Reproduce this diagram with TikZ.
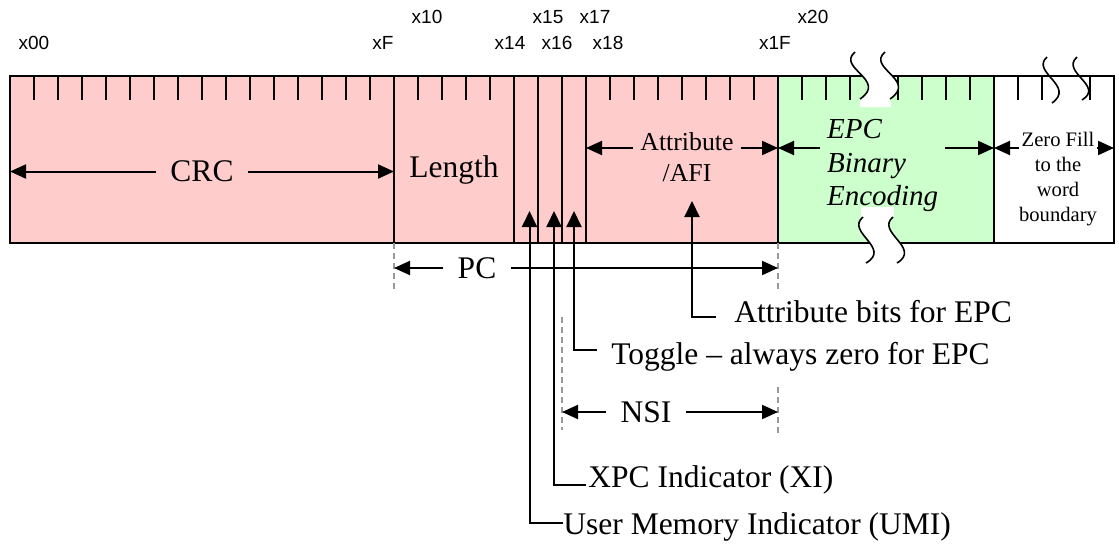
\documentclass[tikz,border=0pt]{standalone}
\usepackage{fontspec}
\setmainfont{Liberation Serif}
\newfontfamily\hexfont{Liberation Sans}
\usetikzlibrary{arrows.meta}
\definecolor{mylightred}{RGB}{255,204,204}
\definecolor{mylightgreen}{RGB}{204,255,204}
\definecolor{myguide}{gray}{.6}
\newcommand{\widthbit}{12pt}
\newcommand{\heightfield}{83.5pt}
\newcommand{\bigtext}{\fontsize{15.75pt}{18pt}\selectfont}
\newcommand{\midtext}{\fontsize{12.9pt}{15.8pt}\selectfont}
\newcommand{\smalltext}{\fontsize{10.3pt}{12.5pt}\selectfont}
\newcommand{\epcfont}{\fontsize{14.5pt}{16.7pt}\selectfont\itshape}
\tikzset{
    field/.style={anchor=west, draw, rectangle, line width=0.8pt, inner sep=0pt, outer sep=0pt, minimum height=\heightfield},
    tick/.style={line width=0.7pt},
    dimarrow/.style={-{Triangle[length=8pt, width=7pt]}, line width=1pt},
    pointer/.style={-{Triangle[length=8pt, width=7.5pt]}, line width=1pt},
    guide/.style={myguide, line width=0.6pt, dash pattern=on 3pt off 2pt},
    breakline/.style={line width=0.8pt},
    dimlabel/.style={font=\bigtext, inner xsep=7pt},
    pointerlabel/.style={font=\bigtext, anchor=west, inner sep=0pt},
    hexlabel/.style={font=\hexfont\fontsize{9.5pt}{11pt}\selectfont}
}
\begin{document}
\begin{tikzpicture}[x=0.5pt, y=-0.5pt]
    \useasboundingbox (0,0) rectangle (1119,546);

    \path (10,159.5) node[field, minimum width=16*\widthbit, fill=mylightred] (crc) {}
        to ++(0:16*\widthbit) node[field, minimum width=5*\widthbit, fill=mylightred] (length) {}
        to ++(0:5*\widthbit) node[field, minimum width=\widthbit, fill=mylightred] (umi) {}
        to ++(0:\widthbit) node[field, minimum width=\widthbit, fill=mylightred] (xi) {}
        to ++(0:\widthbit) node[field, minimum width=\widthbit, fill=mylightred] (toggle) {}
        to ++(0:\widthbit) node[field, minimum width=8*\widthbit, fill=mylightred] (afi) {}
        to ++(0:8*\widthbit) node[field, minimum width=9*\widthbit, fill=mylightgreen] (epc) {}
        to ++(0:9*\widthbit) node[field, minimum width=5*\widthbit, fill=white] (zero) {};

    \foreach \i in {1,...,15} \draw[tick] ([xshift=\i*\widthbit]crc.north west) -- ++(0,24);
    \foreach \i in {1,...,4} \draw[tick] ([xshift=\i*\widthbit]length.north west) -- ++(0,24);
    \foreach \i in {1,...,7} \draw[tick] ([xshift=\i*\widthbit]afi.north west) -- ++(0,24);
    \foreach \i in {1,...,8} \draw[tick] ([xshift=\i*\widthbit]epc.north west) -- ++(0,24);
    \foreach \i in {1,2,4} \draw[tick] ([xshift=\i*\widthbit]zero.north west) -- ++(0,24);

    \node[hexlabel] (lx00) at (34,43) {x00};
    \node[hexlabel] (lxF) at (383,43) {xF};
    \node[hexlabel] (lx10) at (427,17) {x10};
    \node[hexlabel] (lx14) at (510,43) {x14};
    \node[hexlabel] (lx15) at (548,17) {x15};
    \node[hexlabel] (lx16) at (557,43) {x16};
    \node[hexlabel] (lx17) at (595,17) {x17};
    \node[hexlabel] (lx18) at (608,43) {x18};
    \node[hexlabel] (lx1F) at (775,43) {x1F};
    \node[hexlabel] (lx20) at (813,17) {x20};

    \node[dimlabel] (crctext) at ([yshift=-6pt]crc.center) {CRC};
    \node[font=\bigtext] (lengthtext) at ([yshift=-5pt]length.center) {Length};
    \node[font=\midtext, align=center] (afitext) at ([xshift=2.5pt, yshift=1.25pt]afi.center) {Attribute\\/AFI};
    \node[font=\epcfont, align=left, anchor=west] (epctext) at ([xshift=21pt, yshift=-3pt]epc.west) {EPC\\Binary\\Encoding};
    \node[font=\smalltext, align=center, inner xsep=0pt] (zerotext) at ([xshift=2pt, yshift=-9.9pt]zero.center) {Zero Fill\\to the\\word\\boundary};

    \draw[dimarrow] (crctext.west) -- (crctext.west -| crc.west);
    \draw[dimarrow] (crctext.east) -- (crctext.east -| crc.east);
    \draw[dimarrow] ([yshift=4.5pt]afitext.west) -- ([yshift=4.5pt]afitext.west -| afi.west);
    \draw[dimarrow] ([yshift=4.5pt]afitext.east) -- ([yshift=4.5pt]afitext.east -| afi.east);
    \draw[dimarrow] ([yshift=8.75pt]epctext.west) -- ([yshift=8.75pt]epctext.west -| epc.west);
    \draw[dimarrow] ([yshift=8.75pt]epctext.east) -- ([yshift=8.75pt]epctext.east -| epc.east);
    \draw[dimarrow] ([yshift=15.65pt]zerotext.west) -- ([yshift=15.65pt]zerotext.west -| zero.west);
    \draw[dimarrow] ([yshift=15.65pt]zerotext.east) -- ([yshift=15.65pt]zerotext.east -| zero.east);

    \node[dimlabel] (pctext) at (477,268) {PC};
    \draw[guide] (length.south west) -- ++(0,48);
    \draw[guide] (afi.south east) -- ++(0,48);
    \draw[dimarrow] (pctext.west) -- (pctext.west -| length.west);
    \draw[dimarrow] (pctext.east) -- (pctext.east -| afi.east);

    \node[dimlabel] (nsitext) at (646,412) {NSI};
    \draw[guide] (nsitext.west -| toggle.west) ++(0,-95) -- ++(0,113);
    \draw[guide] (nsitext.east -| afi.east) ++(0,-25) -- ++(0,48);
    \draw[dimarrow] (nsitext.west) -- (nsitext.west -| toggle.west);
    \draw[dimarrow] (nsitext.east) -- (nsitext.east -| afi.east);

    \node[pointerlabel] (attrbits) at (734,312) {Attribute bits for EPC};
    \node[pointerlabel] (toggletext) at (611,357) {Toggle -- always zero for EPC};
    \node[pointerlabel] (xitext) at (588,480) {XPC Indicator (XI)};
    \node[pointerlabel] (umitext) at (563,527) {User Memory Indicator (UMI)};
    \draw[pointer] ([xshift=-9pt, yshift=-2.5pt]attrbits.west) -| ([xshift=5pt, yshift=21pt]afi.south);
    \draw[pointer] ([xshift=-7pt, yshift=3.5pt]toggletext.west) -| ([yshift=16pt]toggle.south);
    \draw[pointer] ([xshift=-1pt, yshift=-2.5pt]xitext.west) -| ([xshift=2pt, yshift=16pt]xi.south);
    \draw[pointer] ([yshift=2pt]umitext.west) -| ([xshift=1.75pt, yshift=16pt]umi.south);

    \fill[white] (855,52) .. controls (836,68) and (888,80) .. (860,99) -- (860,107) -- (891,107) -- (890,99) .. controls (918,80) and (866,68) .. (885,52) -- cycle;
    \draw[breakline] (855,52) .. controls (836,68) and (888,80) .. (860,99);
    \draw[breakline] (885,52) .. controls (866,68) and (918,80) .. (890,99);
    \fill[white] (861,207) rectangle (894,217);
    \fill[white] (863,217) .. controls (845,232) and (892,248) .. (866,263) -- (897,263) .. controls (922,248) and (875,232) .. (893,217) -- cycle;
    \draw[breakline] (863,217) .. controls (845,232) and (892,248) .. (866,263);
    \draw[breakline] (893,217) .. controls (875,232) and (922,248) .. (897,263);
    \draw[breakline] (1047,57) .. controls (1030,72) and (1076,86) .. (1052,103);
    \draw[breakline] (1077,57) .. controls (1060,72) and (1105,86) .. (1082,100);
\end{tikzpicture}
\end{document}
